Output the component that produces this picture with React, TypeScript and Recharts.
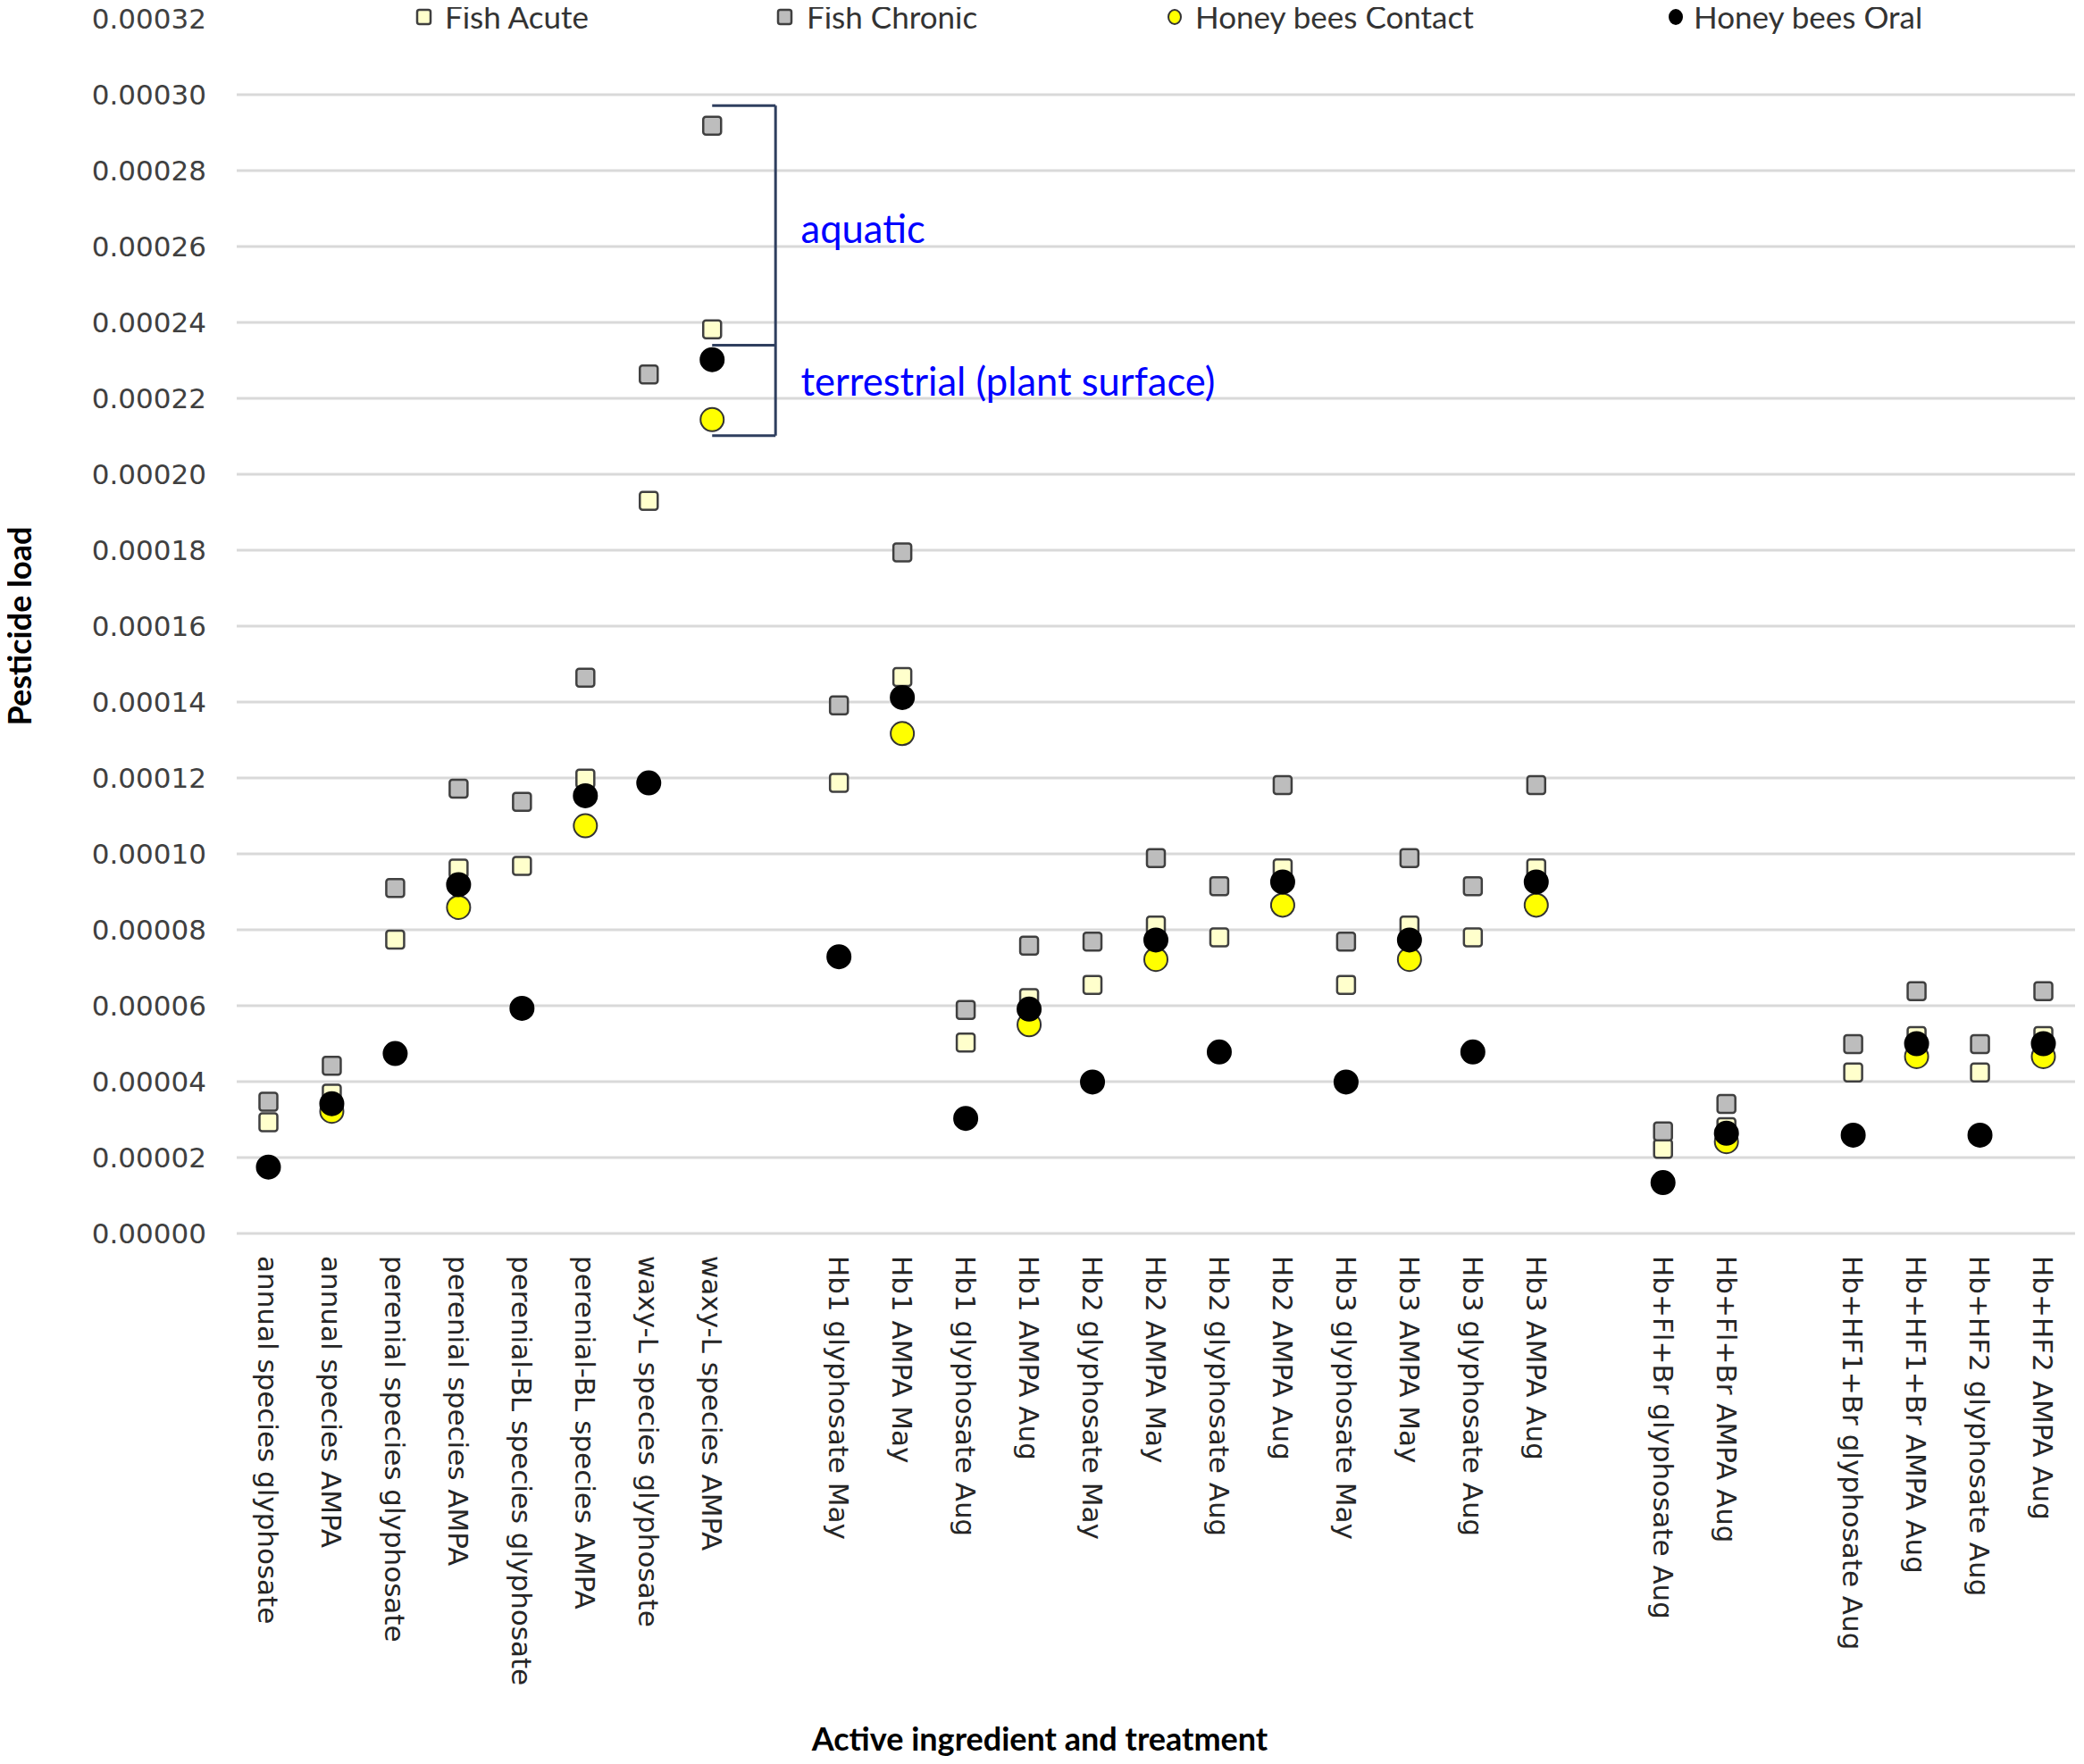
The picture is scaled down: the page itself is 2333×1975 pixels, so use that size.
import React from 'react';
import {
  ScatterChart,
  Scatter,
  XAxis,
  YAxis,
  CartesianGrid,
  Legend,
  ReferenceLine,
  ReferenceDot,
} from 'recharts';

// Treatments along the x axis; empty strings are spacer slots between groups.
const categories: string[] = [
  'annual species glyphosate',
  'annual species AMPA',
  'perenial species glyphosate',
  'perenial species AMPA',
  'perenial-BL species glyphosate',
  'perenial-BL species AMPA',
  'waxy-L species glyphosate',
  'waxy-L species AMPA',
  '',
  'Hb1 glyphosate May',
  'Hb1 AMPA May',
  'Hb1 glyphosate Aug',
  'Hb1 AMPA Aug',
  'Hb2 glyphosate May',
  'Hb2 AMPA May',
  'Hb2 glyphosate Aug',
  'Hb2 AMPA Aug',
  'Hb3 glyphosate May',
  'Hb3 AMPA May',
  'Hb3 glyphosate Aug',
  'Hb3 AMPA Aug',
  '',
  'Hb+Fl+Br glyphosate Aug',
  'Hb+Fl+Br AMPA Aug',
  '',
  'Hb+HF1+Br glyphosate Aug',
  'Hb+HF1+Br AMPA Aug',
  'Hb+HF2 glyphosate Aug',
  'Hb+HF2 AMPA Aug',
];

// Pesticide load per treatment (null = no value)
const fishAcute: (number | null)[] = [
  2.93e-5, 3.68e-5, 7.74e-5, 9.61e-5, 9.68e-5, 1.198e-4, 1.93e-4, 2.382e-4,
  null,
  1.187e-4, 1.466e-4, 5.03e-5, 6.2e-5, 6.55e-5, 8.11e-5, 7.8e-5, 9.62e-5,
  6.55e-5, 8.11e-5, 7.8e-5, 9.62e-5,
  null,
  2.23e-5, 2.8e-5,
  null,
  4.24e-5, 5.2e-5, 4.24e-5, 5.2e-5,
];

const fishChronic: (number | null)[] = [
  3.47e-5, 4.42e-5, 9.1e-5, 1.172e-4, 1.137e-4, 1.464e-4, 2.263e-4, 2.918e-4,
  null,
  1.391e-4, 1.794e-4, 5.89e-5, 7.58e-5, 7.69e-5, 9.89e-5, 9.15e-5, 1.181e-4,
  7.69e-5, 9.89e-5, 9.15e-5, 1.181e-4,
  null,
  2.69e-5, 3.41e-5,
  null,
  4.99e-5, 6.38e-5, 4.99e-5, 6.38e-5,
];

const beesContact: (number | null)[] = [
  null, 3.22e-5, null, 8.59e-5, null, 1.074e-4, null, 2.144e-4,
  null,
  null, 1.317e-4, null, 5.5e-5, null, 7.22e-5, null, 8.65e-5,
  null, 7.22e-5, null, 8.65e-5,
  null,
  null, 2.42e-5,
  null,
  null, 4.66e-5, null, 4.66e-5,
];

const beesOral: (number | null)[] = [
  1.75e-5, 3.42e-5, 4.74e-5, 9.19e-5, 5.93e-5, 1.153e-4, 1.187e-4, 2.302e-4,
  null,
  7.29e-5, 1.412e-4, 3.03e-5, 5.91e-5, 3.99e-5, 7.73e-5, 4.78e-5, 9.26e-5,
  3.99e-5, 7.73e-5, 4.78e-5, 9.26e-5,
  null,
  1.34e-5, 2.64e-5,
  null,
  2.59e-5, 5.0e-5, 2.59e-5, 5.0e-5,
];

const yTicks = [
  0, 0.00002, 0.00004, 0.00006, 0.00008, 0.0001, 0.00012, 0.00014, 0.00016,
  0.00018, 0.0002, 0.00022, 0.00024, 0.00026, 0.00028, 0.0003, 0.00032,
];
const gridValues = yTicks.filter((v) => v < 0.00031);

// Bracket grouping the waxy-L AMPA markers: aquatic (top) vs terrestrial (bottom)
const bracketTop = 2.971e-4;
const bracketMid = 2.34e-4;
const bracketBottom = 2.102e-4;
const bracketFrom = 7;
const bracketTo = 8;

const toPoints = (values: (number | null)[]) =>
  values
    .map((v, i) => (v == null ? null : { x: i, y: v }))
    .filter((p): p is { x: number; y: number } => p !== null);

const labeledTicks = categories
  .map((c, i) => (c ? i : -1))
  .filter((i) => i >= 0);

const TICK_FONT = "'DejaVu Sans', Verdana, sans-serif";
const TITLE_FONT = "Lato, 'Open Sans', sans-serif";

const SQUARE = 20;
const CIRCLE_R = 13;

const makeSquare = (fill: string) => (props: any) => {
  const { cx, cy } = props;
  if (cx == null || cy == null) return <g />;
  return (
    <rect
      x={cx - SQUARE / 2}
      y={cy - SQUARE / 2}
      width={SQUARE}
      height={SQUARE}
      rx={3}
      ry={3}
      fill={fill}
      stroke="#404040"
      strokeWidth={2.5}
    />
  );
};

const makeCircle = (fill: string, stroke: string) => (props: any) => {
  const { cx, cy } = props;
  if (cx == null || cy == null) return <g />;
  return <ellipse cx={cx} cy={cy} rx={CIRCLE_R} ry={CIRCLE_R} fill={fill} stroke={stroke} strokeWidth={2} />;
};

const ACUTE_FILL = '#FFFFCC';
const CHRONIC_FILL = '#BDBDBD';
const CONTACT_FILL = '#FFFF00';
const ORAL_FILL = '#000000';

const CategoryTick = (props: any) => {
  const { x, y, payload } = props;
  const label = categories[payload.value] ?? '';
  return (
    <text
      transform={`translate(${x},${y}) rotate(90)`}
      dy="0.36em"
      textAnchor="start"
      fontFamily={TICK_FONT}
      fontSize={31}
      fill="#262626"
    >
      {label}
    </text>
  );
};

const YTitle = (props: any) => {
  const { viewBox } = props;
  const cx = viewBox.x + 21;
  const cy = viewBox.y + viewBox.height / 2;
  return (
    <text
      transform={`translate(${cx},${cy}) rotate(-90)`}
      textAnchor="middle"
      dominantBaseline="central"
      fontFamily={TITLE_FONT}
      fontWeight={700}
      fontSize={36}
      fill="#000"
    >
      Pesticide load
    </text>
  );
};

const XTitle = (props: any) => {
  const { viewBox } = props;
  return (
    <text
      x={viewBox.x + 899}
      y={viewBox.y + 565}
      textAnchor="middle"
      dominantBaseline="central"
      fontFamily={TITLE_FONT}
      fontWeight={700}
      fontSize={36}
      fill="#000"
    >
      Active ingredient and treatment
    </text>
  );
};

const Annotation = (props: any) => {
  const { viewBox, text } = props;
  return (
    <text x={viewBox.x} y={viewBox.y} fill="#0000FF" fontFamily={TITLE_FONT} fontSize={43.5}>
      {text}
    </text>
  );
};

// Horizontal placement of each legend entry (marker centre, text start)
const legendSlots = [
  { marker: 475, text: 498 },
  { marker: 879, text: 903 },
  { marker: 1315, text: 1338 },
  { marker: 1876, text: 1896 },
];

const legendMarkers: Record<string, { kind: 'square' | 'circle'; fill: string; stroke: string }> = {
  'Fish Acute': { kind: 'square', fill: ACUTE_FILL, stroke: '#404040' },
  'Fish Chronic': { kind: 'square', fill: CHRONIC_FILL, stroke: '#404040' },
  'Honey bees Contact': { kind: 'circle', fill: CONTACT_FILL, stroke: '#333' },
  'Honey bees Oral': { kind: 'circle', fill: ORAL_FILL, stroke: ORAL_FILL },
};

const LegendContent = (props: any) => {
  const payload = props.payload || [];
  return (
    <div style={{ position: 'relative', width: 2333, height: 40 }}>
      {payload.map((entry: any, i: number) => {
        const slot = legendSlots[i];
        const m = legendMarkers[entry.value];
        if (!slot || !m) return null;
        return (
          <React.Fragment key={entry.value}>
            <svg
              width={20}
              height={20}
              style={{ position: 'absolute', left: slot.marker - 10, top: 9 }}
            >
              {m.kind === 'square' ? (
                <rect x={2} y={2} width={15} height={16} rx={2.5} fill={m.fill} stroke={m.stroke} strokeWidth={2.5} />
              ) : (
                <ellipse cx={10} cy={10} rx={7} ry={8} fill={m.fill} stroke={m.stroke} strokeWidth={2} />
              )}
            </svg>
            <span
              style={{
                position: 'absolute',
                left: slot.text,
                top: 1,
                fontFamily: TITLE_FONT,
                fontSize: 35,
                lineHeight: '35px',
                color: '#333',
                whiteSpace: 'nowrap',
              }}
            >
              {entry.value}
            </span>
          </React.Fragment>
        );
      })}
    </div>
  );
};

export default function App() {
  return (
    <div style={{ marginLeft: -8, marginTop: -8, width: 2333, height: 1975 }}>
      <ScatterChart
        width={2333}
        height={1975}
        margin={{ top: 21, right: 10, bottom: 0, left: 0 }}
        style={{ background: '#fff' }}
      >
        <CartesianGrid
          vertical={false}
          horizontalValues={gridValues}
          stroke="#D9D9D9"
          strokeWidth={3}
        />
        <XAxis
          type="number"
          dataKey="x"
          domain={[-0.5, 28.5]}
          allowDataOverflow
          ticks={labeledTicks}
          interval={0}
          axisLine={false}
          tickLine={false}
          tickSize={0}
          tickMargin={25}
          height={594}
          tick={<CategoryTick />}
          label={<XTitle />}
        />
        <YAxis
          type="number"
          dataKey="y"
          domain={[0, 0.00032]}
          allowDataOverflow
          ticks={yTicks}
          interval={0}
          width={265}
          axisLine={false}
          tickLine={false}
          tickSize={0}
          tickMargin={34}
          tickFormatter={(v: number) => v.toFixed(5)}
          tick={{ fontFamily: TICK_FONT, fontSize: 31, fill: '#404040' }}
          label={<YTitle />}
        />
        <Legend
          layout="horizontal"
          verticalAlign="middle"
          align="center"
          wrapperStyle={{ top: 0, left: 0, width: 2333, height: 40 }}
          content={<LegendContent />}
        />

        <ReferenceLine
          segment={[{ x: bracketFrom, y: bracketTop }, { x: bracketTo, y: bracketTop }]}
          stroke="#2F3F5F"
          strokeWidth={3}
        />
        <ReferenceLine
          segment={[{ x: bracketTo, y: bracketTop }, { x: bracketTo, y: bracketBottom }]}
          stroke="#2F3F5F"
          strokeWidth={3}
        />
        <ReferenceLine
          segment={[{ x: bracketFrom, y: bracketMid }, { x: bracketTo, y: bracketMid }]}
          stroke="#2F3F5F"
          strokeWidth={3}
        />
        <ReferenceLine
          segment={[{ x: bracketFrom, y: bracketBottom }, { x: bracketTo, y: bracketBottom }]}
          stroke="#2F3F5F"
          strokeWidth={3}
        />

        <Scatter
          name="Fish Acute"
          data={toPoints(fishAcute)}
          fill={ACUTE_FILL}
          shape={makeSquare(ACUTE_FILL)}
          isAnimationActive={false}
        />
        <Scatter
          name="Fish Chronic"
          data={toPoints(fishChronic)}
          fill={CHRONIC_FILL}
          shape={makeSquare(CHRONIC_FILL)}
          isAnimationActive={false}
        />
        <Scatter
          name="Honey bees Contact"
          data={toPoints(beesContact)}
          fill={CONTACT_FILL}
          shape={makeCircle(CONTACT_FILL, '#333')}
          isAnimationActive={false}
        />
        <Scatter
          name="Honey bees Oral"
          data={toPoints(beesOral)}
          fill={ORAL_FILL}
          shape={makeCircle(ORAL_FILL, ORAL_FILL)}
          isAnimationActive={false}
        />

        <ReferenceDot
          x={8.4}
          y={2.609e-4}
          r={0}
          fill="none"
          stroke="none"
          label={<Annotation text="aquatic" />}
        />
        <ReferenceDot
          x={8.4}
          y={2.207e-4}
          r={0}
          fill="none"
          stroke="none"
          label={<Annotation text="terrestrial (plant surface)" />}
        />
      </ScatterChart>
    </div>
  );
}
